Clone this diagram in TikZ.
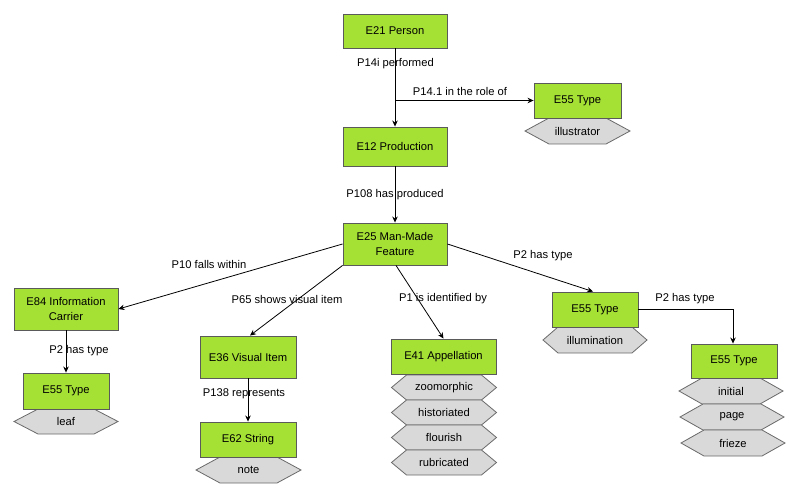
\documentclass[tikz,border=0pt]{standalone}
\usepackage{fontspec}
\setmainfont{Liberation Sans}
\usetikzlibrary{arrows.meta}
\definecolor{boxgreen}{HTML}{A5E035}
\definecolor{boxline}{HTML}{5A5A5A}
\definecolor{hexfill}{HTML}{D9D9D9}
\definecolor{hexline}{HTML}{6A6A6A}
\tikzset{
  cls/.style={draw=boxline, line width=0.9pt, fill=boxgreen, inner sep=0pt, align=center, font=\fontsize{11.2}{14.5}\selectfont},
  hexshape/.style={draw=hexline, line width=0.8pt, fill=hexfill},
  hextext/.style={inner sep=0pt, font=\fontsize{11.2}{13}\selectfont},
  rel/.style={draw=black, line width=0.8pt, -{Stealth[length=6pt,width=5.5pt]}},
  lbl/.style={inner sep=0pt, font=\fontsize{11.2}{13}\selectfont}
}
% name, cx, cy, halfwidth, inset, halfheight, text
\newcommand{\hexnode}[7]{%
  \path[hexshape] (#2-#4,#3) -- (#2-#4+#5,#3-#6) -- (#2+#4-#5,#3-#6) -- (#2+#4,#3) -- (#2+#4-#5,#3+#6) -- (#2-#4+#5,#3+#6) -- cycle;
  \node[hextext] (#1) at (#2,#3) {#7};
}
\begin{document}
\begin{tikzpicture}[x=1pt,y=-1pt]
\useasboundingbox (0,0) rectangle (800,497);
\fill[white] (0,0) rectangle (800,497);

% hexagons
\hexnode{hillus}{577.5}{131}{52.5}{24}{13}{illustrator}
\hexnode{hillum}{595}{340}{52}{15}{13}{illumination}
\hexnode{hleaf}{66}{421.5}{52}{24}{12.5}{leaf}
\hexnode{hnote}{248.5}{470}{52.5}{24}{13}{note}
\hexnode{hzoo}{444}{387.5}{52.5}{15}{12.5}{zoomorphic}
\hexnode{hhist}{444}{412.5}{52.5}{15}{12.5}{historiated}
\hexnode{hflou}{444}{437.5}{52.5}{15}{12.5}{flourish}
\hexnode{hrubr}{444}{462.5}{52.5}{15}{12.5}{rubricated}
\hexnode{hinit}{731}{391}{52}{23}{13}{initial}
\hexnode{hpage}{732}{417}{52}{23}{13}{page}
\hexnode{hfrie}{733}{443}{52}{23}{13}{frieze}

% class boxes
\node[cls, minimum width=104pt, minimum height=34pt] (e21) at (395,31) {E21 Person};
\node[cls, minimum width=104pt, minimum height=39pt] (e12) at (395,146.5) {E12 Production};
\node[cls, minimum width=104pt, minimum height=42pt] (e25) at (395,244) {E25 Man-Made\\Feature};
\node[cls, minimum width=87pt, minimum height=35pt] (e55a) at (577.5,100.5) {E55 Type};
\node[cls, minimum width=104pt, minimum height=42pt] (e84) at (66,309) {E84 Information\\Carrier};
\node[cls, minimum width=96pt, minimum height=42pt] (e36) at (248,357) {E36 Visual Item};
\node[cls, minimum width=105pt, minimum height=35pt] (e41) at (443.5,356.5) {E41 Appellation};
\node[cls, minimum width=86pt, minimum height=35pt] (e55b) at (595,309.5) {E55 Type};
\node[cls, minimum width=86pt, minimum height=34pt] (e55c) at (734,361) {E55 Type};
\node[cls, minimum width=86pt, minimum height=36pt] (e55d) at (66,391) {E55 Type};
\node[cls, minimum width=96pt, minimum height=35pt] (e62) at (248,439.5) {E62 String};

% connectors
\coordinate (role) at (e21.south |- e55a.west);
\draw[rel] (e21.south) -- (e12.north);
\draw[rel] (role) -- (e55a.west);
\draw[rel] (e12.south) -- (e25.north);
\draw[rel] (e25.west) -- (e84.east);
\draw[rel] (e25.south west) -- ([xshift=2pt]e36.north);
\draw[rel] ([xshift=1pt]e25.south) -- (e41.north);
\draw[rel] (e25.east) -- ([xshift=-2pt]e55b.north);
\draw[rel] (e55b.east) -| ([xshift=-1pt]e55c.north);
\draw[rel] (e84.south) -- (e55d.north);
\draw[rel] (e36.south) -- (e62.north);

% labels
\node[lbl] (l1) at (395.5,64) {P14i performed};
\node[lbl] (l2) at (460,91) {P14.1 in the role of};
\node[lbl] (l3) at (395,195) {P108 has produced};
\node[lbl] (l4) at (209,264) {P10 falls within};
\node[lbl] (l5) at (287,299) {P65 shows visual item};
\node[lbl] (l6) at (443,299) {P1 is identified by};
\node[lbl] (l7) at (543,256) {P2 has type};
\node[lbl] (l8) at (685,299) {P2 has type};
\node[lbl] (l9) at (79,351) {P2 has type};
\node[lbl] (l10) at (244,394) {P138 represents};
\end{tikzpicture}
\end{document}
